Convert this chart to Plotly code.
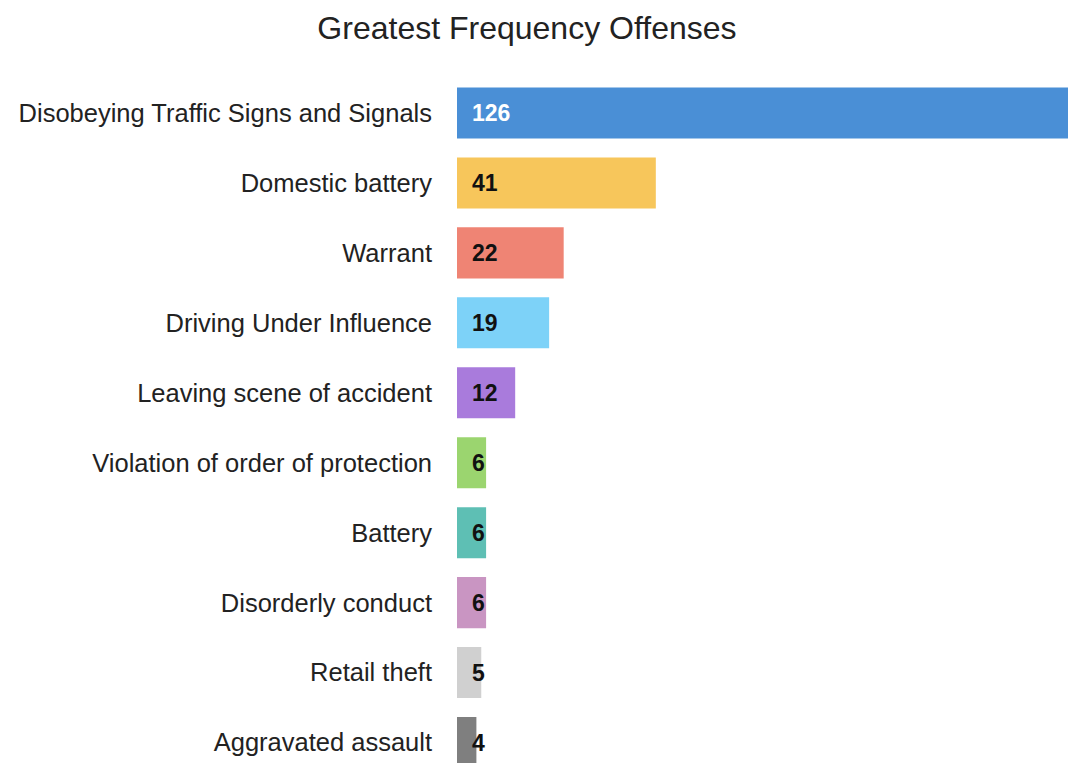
import plotly.graph_objects as go

offenses = [
    "Disobeying Traffic Signs and Signals",
    "Domestic battery",
    "Warrant",
    "Driving Under Influence",
    "Leaving scene of accident",
    "Violation of order of protection",
    "Battery",
    "Disorderly conduct",
    "Retail theft",
    "Aggravated assault",
]
counts = [126, 41, 22, 19, 12, 6, 6, 6, 5, 4]
bar_colors = ["#4a8fd6", "#f7c65b", "#ef8474", "#7dd2f8", "#a97bdc",
              "#9bd56f", "#5ebfb4", "#c995c2", "#d0d0d0", "#7f7f7f"]
text_colors = ["white"] + ["#111111"] * 9

fig = go.Figure(go.Bar(
    x=counts,
    y=offenses,
    orientation="h",
    marker=dict(color=bar_colors, line=dict(width=0)),
    width=0.73,
    hoverinfo="x+y",
))

# value labels near the base of each bar
for name, n, c in zip(offenses, counts, text_colors):
    fig.add_annotation(
        x=0, y=name, text=str(n), showarrow=False,
        xanchor="left", xshift=13,
        font=dict(family="Liberation Sans, Arial", size=23, color=c, weight="bold"),
    )

fig.update_layout(
    title=dict(text="Greatest Frequency Offenses", x=0.4934, xanchor="center",
               y=0.963, yanchor="middle",
               font=dict(family="Liberation Sans, Arial", size=32, color="#222222")),
    width=1068,
    height=763,
    margin=dict(l=457, r=0, t=77.5, b=0),
    plot_bgcolor="white",
    paper_bgcolor="white",
    showlegend=False,
    font=dict(family="Liberation Sans, Arial", size=25.5, color="#222222"),
)
fig.update_xaxes(range=[0, 126], showgrid=False, zeroline=False,
                 showticklabels=False, showline=False, ticks="")
fig.update_yaxes(range=[9.293, -0.5], showgrid=False, zeroline=False,
                 showline=False, ticks="", ticklabelstandoff=24)

fig.write_html("out.html", config={"displayModeBar": False},
               post_script="document.body.style.margin='0';")
